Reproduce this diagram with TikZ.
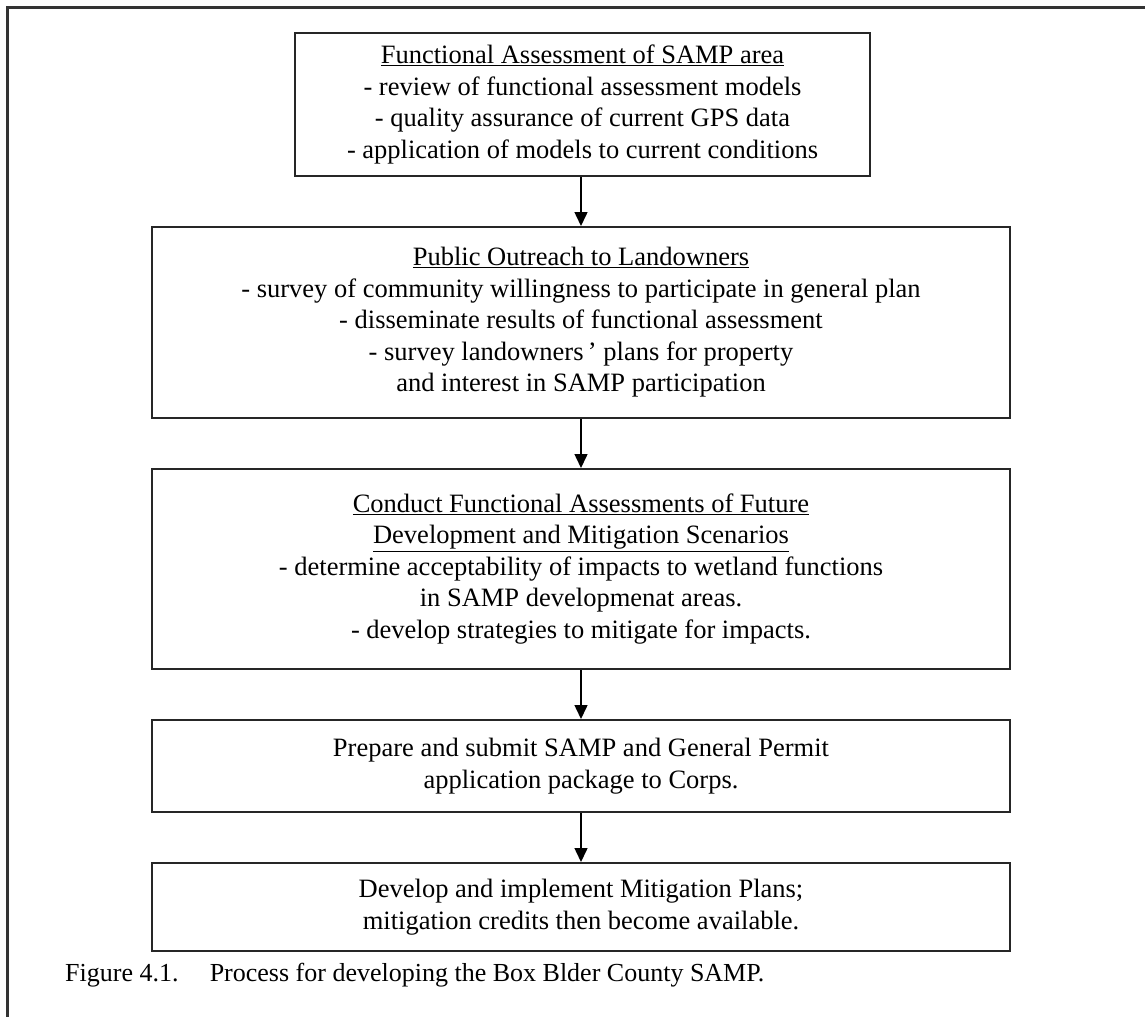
\documentclass[tikz,border=0pt]{standalone}
\usepackage{fontspec}
\setmainfont{Liberation Serif}
\usetikzlibrary{arrows.meta}
\begin{document}
\begin{tikzpicture}[x=1pt,y=-1pt,
  box/.style={draw=black!85, line width=2pt, align=center, inner sep=0pt,
    font=\fontsize{26.5}{31.5}\selectfont},
  flow/.style={line width=1.5pt, -{Triangle[width=13pt,length=14pt]}}]
\useasboundingbox (0,0) rectangle (1145,1017);
\fill[white] (0,0) rectangle (1145,1017);
\draw[line width=2.5pt, black!80] (1145,7.5) -- (7.5,7.5) -- (7.5,1017);

\node[box, minimum width=575pt, minimum height=143pt, anchor=north] (b1) at (582.5,32)
  {\underline{Functional Assessment of SAMP area}\\
   - review of functional assessment models\\
   - quality assurance of current GPS data\\
   - application of models to current conditions};

\node[box, minimum width=858pt, minimum height=191pt, anchor=north] (b2) at (581,226)
  {\underline{Public Outreach to Landowners}\\
   - survey of community willingness to participate in general plan\\
   - disseminate results of functional assessment\\
   - survey landowners\,’ plans for property\\
   and interest in SAMP participation};

\node[box, minimum width=858pt, minimum height=200pt, anchor=north] (b3) at (581,468)
  {\underline{Conduct Functional Assessments of Future}\\
   \underline{Development and Mitigation Scenarios}\\
   - determine acceptability of impacts to wetland functions\\
   in SAMP developmenat areas.\\
   - develop strategies to mitigate for impacts.};

\node[box, minimum width=858pt, minimum height=92pt, anchor=north] (b4) at (581,719)
  {Prepare and submit SAMP and General Permit\\
   application package to Corps.};

\node[box, minimum width=858pt, minimum height=88pt, anchor=north] (b5) at (581,862)
  {Develop and implement Mitigation Plans;\\
   mitigation credits then become available.};

\node[anchor=west, inner sep=0pt, font=\fontsize{26}{31.5}\selectfont] (cap) at (65,975)
  {Figure 4.1.\hspace{1.2em}Process for developing the Box Blder County SAMP.};

\draw[flow] (b1.south -| 581,0) -- (b2.north);
\draw[flow] (b2.south) -- (b3.north);
\draw[flow] (b3.south) -- (b4.north);
\draw[flow] (b4.south) -- (b5.north);
\end{tikzpicture}
\end{document}
